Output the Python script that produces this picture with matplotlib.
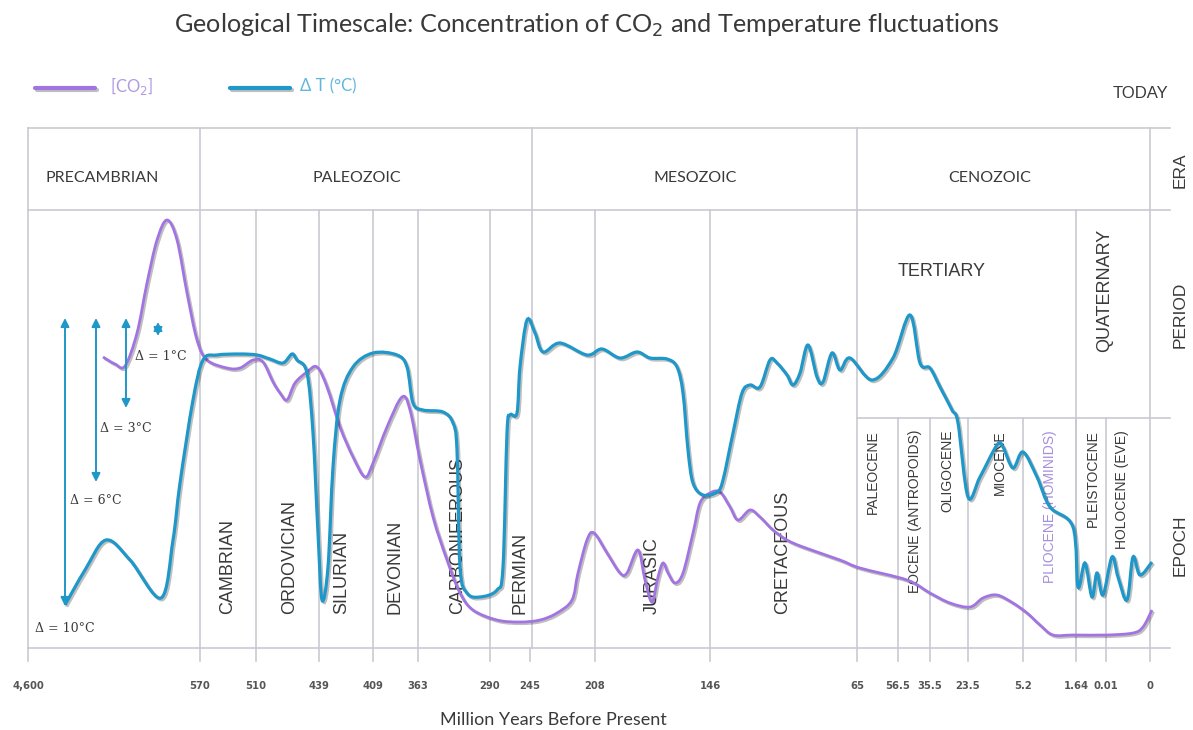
import numpy as np
import matplotlib
matplotlib.use("Agg")
import matplotlib.pyplot as plt
import matplotlib.patheffects as pe
from matplotlib.path import Path
from matplotlib.patches import PathPatch

# timeline positions (chart units) and their labels (million years before present)
tick_pos = [28, 200, 256, 319, 373, 418, 490, 530, 595, 710, 857, 898, 930, 968, 1023, 1076, 1106, 1150]
tick_labels = ["4,600", "570", "510", "439", "409", "363", "290", "245", "208", "146",
               "65", "56.5", "35.5", "23.5", "5.2", "1.64", "0.01", "0"]

# eras
era_names = ["PRECAMBRIAN", "PALEOZOIC", "MESOZOIC", "CENOZOIC"]
era_edges = [28, 200, 532, 857, 1150]
era_label_x = [102, 357, 695, 990]

# periods (vertical labels)
period_names = ["CAMBRIAN", "ORDOVICIAN", "SILURIAN", "DEVONIAN", "CARBONIFEROUS", "PERMIAN", "JURASIC", "CRETACEOUS"]
period_label_x = [228, 290, 342, 395, 458, 520, 652, 783]
period_lines = [256, 319, 373, 418, 490, 595, 710, 1076]

# epochs
epoch_names = ["PALEOCENE", "EOCENE (ANTROPOIDS)", "OLIGOCENE", "MIOCENE", "PLIOCENE (HOMINIDS)", "PLEISTOCENE", "HOLOCENE (EVE)"]
epoch_label_x = [873, 915, 947, 1000, 1050, 1093, 1122]
epoch_lines = [898, 930, 968, 1023, 1076, 1106]

# CO2 concentration curve (chart units, y grows downward)
co2_x = [103, 115, 125, 137, 147, 157, 167, 177, 187, 197, 207, 227, 240, 253, 263, 273, 280, 287,
         295, 307, 317, 327, 340, 353, 365, 373, 387, 402, 410, 420, 433, 447, 460, 473, 497, 520,
         540, 557, 572, 578, 587, 594, 607, 620, 627, 638, 645, 652, 658, 663, 668, 675, 683, 693,
         700, 710, 720, 730, 738, 750, 760, 773, 787, 803, 840, 860, 907, 930, 950, 970, 983, 997,
         1013, 1027, 1040, 1053, 1073, 1107, 1133, 1143, 1152]
co2_y = [357, 364, 366, 333, 283, 240, 220, 240, 293, 340, 360, 368, 368, 360, 362, 382, 393, 400,
         383, 372, 367, 387, 427, 457, 477, 463, 427, 397, 410, 460, 517, 560, 593, 610, 620, 622,
         620, 613, 600, 573, 540, 533, 553, 573, 573, 550, 580, 602, 577, 563, 573, 583, 573, 533,
         503, 493, 492, 507, 520, 510, 517, 530, 540, 547, 560, 568, 580, 593, 603, 607, 598, 595,
         603, 613, 625, 635, 635, 635, 633, 627, 610]

# temperature fluctuation curve
temp_x = [65, 85, 106, 130, 161, 173, 180, 193, 203, 217, 240, 257, 270, 283, 292, 297, 307, 313,
          318, 322, 328, 333, 340, 353, 373, 397, 407, 413, 423, 443, 453, 457, 460, 467, 480, 497,
          503, 507, 510, 517, 520, 527, 535, 543, 560, 587, 602, 620, 637, 650, 667, 677, 683, 688,
          693, 703, 717, 723, 733, 742, 750, 760, 770, 777, 787, 793, 800, 808, 817, 823, 832, 840,
          850, 872, 893, 910, 920, 930, 940, 952, 958, 968, 980, 997, 1003, 1013, 1023, 1037, 1050,
          1073, 1078, 1085, 1092, 1097, 1103, 1112, 1118, 1127, 1133, 1140, 1152]
temp_y = [605, 570, 540, 560, 598, 540, 483, 400, 360, 355, 354, 355, 359, 363, 354, 360, 373, 433,
          533, 600, 567, 467, 400, 367, 353, 355, 367, 403, 410, 412, 423, 450, 567, 593, 597, 590,
          567, 433, 415, 413, 367, 320, 333, 352, 343, 355, 349, 358, 352, 358, 359, 367, 393, 450,
          483, 495, 492, 480, 433, 393, 385, 387, 360, 363, 375, 385, 373, 345, 377, 382, 353, 370,
          358, 380, 358, 315, 363, 368, 387, 410, 423, 497, 477, 445, 447, 468, 452, 477, 507,
          527, 587, 563, 597, 573, 595, 557, 577, 600, 557, 575, 562]

# temperature scale arrows (x, top, bottom) and labels
arrow_x = [65, 96, 126, 158]
arrow_top = [318, 318, 318, 322]
arrow_bottom = [606, 482, 408, 336]
delta_labels = ["Δ = 10°C", "Δ = 6°C", "Δ = 3°C", "Δ = 1°C"]
delta_label_xy = [(35, 628), (70, 501), (100, 428), (135, 356)]

purple = "#a274e2"
blue = "#1f97c9"
grid = "#c9c9d2"
text = "#3a3a3a"


def smooth_path(xs, ys):
    # smoothed line like a spreadsheet "smooth line" (Catmull-Rom drawn as Bezier segments)
    p = np.column_stack([xs, ys]).astype(float)
    p = np.vstack([p[0], p, p[-1]])
    verts = [p[1]]
    codes = [Path.MOVETO]
    for i in range(1, len(p) - 2):
        c1 = p[i] + (p[i + 1] - p[i - 1]) / 6
        c2 = p[i + 1] - (p[i + 2] - p[i]) / 6
        verts += [c1, c2, p[i + 1]]
        codes += [Path.CURVE4] * 3
    return Path(verts, codes)


fig = plt.figure(figsize=(11.93, 7.30), dpi=100)
ax = fig.add_axes([0, 0, 1, 1])
ax.set_xlim(0, 1193)
ax.set_ylim(730, 0)
ax.axis("off")

# title
ax.text(587, 25, "Geological Timescale: Concentration of CO$_2$ and Temperature fluctuations",
        ha="center", va="center", fontsize=18.2, color=text, family="Lato")

# legend
shadow = [pe.SimpleLineShadow(offset=(1.2, -1.2), alpha=0.25), pe.Normal()]
ax.plot([35, 95], [88, 88], color=purple, lw=3, solid_capstyle="round", path_effects=shadow)
ax.text(110, 86, "[CO$_2$]", color="#b199e3", fontsize=12, va="center", family="Lato")
ax.plot([230, 290], [88, 88], color=blue, lw=3, solid_capstyle="round", path_effects=shadow)
ax.text(300, 86, "Δ T (°C)", color="#62b6dc", fontsize=12, va="center", family="Lato")
ax.text(1168, 94, "TODAY", ha="right", va="center", fontsize=12, color=text, family="Liberation Sans")

# table grid
lw = 1.2
for yy in [128, 210, 648]:
    ax.plot([28, 1170], [yy, yy], color=grid, lw=lw, zorder=1)
ax.plot([857, 1170], [418, 418], color=grid, lw=lw, zorder=1)
for xx in era_edges:
    ax.plot([xx, xx], [128, 648], color=grid, lw=lw, zorder=1)
for xx in period_lines:
    ax.plot([xx, xx], [210, 648], color=grid, lw=lw, zorder=1)
for xx in epoch_lines:
    ax.plot([xx, xx], [418, 648], color=grid, lw=lw, zorder=1)

# era labels
for name, xx in zip(era_names, era_label_x):
    ax.text(xx, 178, name, ha="center", va="center", fontsize=11.5, color=text, family="Lato")
ax.text(942, 271, "TERTIARY", ha="center", va="center", fontsize=13, color=text, family="Liberation Sans")
ax.text(1105, 290, "QUATERNARY", ha="center", va="center", rotation=90, fontsize=13, color=text,
        family="Liberation Sans")

for name, yy in zip(["ERA", "PERIOD", "EPOCH"], [170, 315, 545]):
    ax.text(1180, yy, name, ha="center", va="center", rotation=90, fontsize=12.5, color=text,
            family="Liberation Sans")

for name, xx in zip(period_names, period_label_x):
    ax.text(xx, 614, name, ha="center", va="bottom", rotation=90, fontsize=13, color=text,
            family="Liberation Sans")

for name, xx in zip(epoch_names, epoch_label_x):
    col = "#a58fdb" if name.startswith("PLIOCENE") else text
    ax.text(xx, 430, name, ha="center", va="top", rotation=90, fontsize=10, color=col,
            family="Liberation Sans")

# curves
ax.add_patch(PathPatch(smooth_path(co2_x, co2_y), fill=False, edgecolor=purple, lw=2, zorder=3,
                       path_effects=shadow))
ax.add_patch(PathPatch(smooth_path(temp_x, temp_y), fill=False, edgecolor=blue, lw=2.3, zorder=4,
                       path_effects=shadow))

# delta T arrows
for xx, y0, y1 in zip(arrow_x, arrow_top, arrow_bottom):
    ax.annotate("", xy=(xx, y0), xytext=(xx, y1),
                arrowprops=dict(arrowstyle="<|-|>,head_length=0.5,head_width=0.25", color=blue, lw=1.4,
                                shrinkA=0, shrinkB=0))
for lab, (lx, ly) in zip(delta_labels, delta_label_xy):
    ax.text(lx, ly, lab, ha="left", va="center", fontsize=9, color=text, family="DejaVu Serif")

# bottom ticks and labels
for xx, lab in zip(tick_pos, tick_labels):
    ax.plot([xx, xx], [648, 661], color=grid, lw=lw)
    ax.text(xx, 686, lab, ha="center", va="center", fontsize=7.2, fontweight="bold", color="#555555")
ax.text(553, 720, "Million Years Before Present", ha="center", va="center", fontsize=13, color=text,
        family="Lato")

fig.savefig("out.png", dpi=100)
